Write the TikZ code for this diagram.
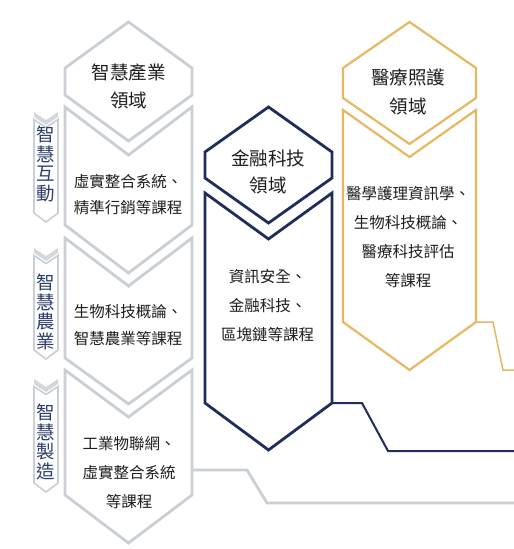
\documentclass[tikz,border=0pt]{standalone}
\usepackage{fontspec}
\newfontfamily\cjk{Noto Sans CJK TC}
\definecolor{lgray}{HTML}{C9CFD5}
\definecolor{bandgray}{HTML}{D3D8DD}
\definecolor{navy}{HTML}{1F2D5C}
\definecolor{gold}{HTML}{E6B862}
\definecolor{txt}{HTML}{1E1E1E}
\definecolor{navytxt}{HTML}{2D3D6C}
\tikzset{
  grayshape/.style={draw=lgray, line width=2.8pt, line join=miter},
  navyshape/.style={draw=navy, line width=2.8pt, line join=miter},
  goldshape/.style={draw=gold, line width=2.2pt, line join=miter},
  tabshape/.style={draw=lgray, line width=1.6pt, line join=miter},
  bandshape/.style={fill=bandgray, draw=none},
  grayline/.style={draw=lgray, line width=2.8pt},
  navyline/.style={draw=navy, line width=2pt},
  goldline/.style={draw=gold, line width=1.5pt},
  title/.style={font=\cjk\fontsize{18.5}{28}\selectfont, align=center, text=txt, inner sep=0pt},
  body/.style={font=\cjk\fontsize{15.5}{29}\selectfont, align=center, text=txt, inner sep=0pt},
  tabtext/.style={font=\cjk\fontsize{18.5}{19.5}\selectfont, align=center, text=navytxt, inner sep=0pt}
}
\begin{document}
\begin{tikzpicture}[x=1pt,y=-1pt]
\useasboundingbox (0,0) rectangle (514,549);
\fill[white] (0,0) rectangle (514,549);

% ---------- gray column ----------
\draw[grayshape] (128.5,22) -- (192,68) -- (192,95) -- (128.5,141) -- (65,95) -- (65,68) -- cycle;
\draw[grayshape] (65,107) -- (128.5,155) -- (192,107) -- (192,225) -- (128.5,273) -- (65,225) -- cycle;
\draw[grayshape] (65,238) -- (128.5,286) -- (192,238) -- (192,358) -- (128.5,404) -- (65,358) -- cycle;
\draw[grayshape] (65,370) -- (128.5,417) -- (192,370) -- (192,495) -- (128.5,543) -- (65,495) -- cycle;

\node[title] (gt) at (128.5,86) {智慧產業\\領域};
\node[body] (g1) at (128,195) {虛實整合系統、\\[-3pt]精準行銷等課程};
\node[body] (g2) at (128,325.5) {生物科技概論、\\[-2pt]智慧農業等課程};
\node[body] (g3) at (129,472.5) {工業物聯網、\\虛實整合系統\\等課程};

% ---------- side tabs ----------
\foreach \y/\t/\b in {112/119.5/213, 248/255.5/350, 379/386.5/483}{
  \fill[bandshape] (34,\y) -- (46,\y+8) -- (58,\y) -- (58,\y+5) -- (46,\y+13) -- (34,\y+5) -- cycle;
  \draw[tabshape] (34,\t) -- (46,\t+8) -- (58,\t) -- (58,\b) -- (46,\b+9) -- (34,\b) -- cycle;
}
\node[tabtext] (t1) at (46,164) {智\\慧\\互\\動};
\node[tabtext] (t2) at (46,312) {智\\慧\\農\\業};
\node[tabtext] (t3) at (46,442) {智\\慧\\製\\造};

% ---------- navy column ----------
\draw[navyshape] (268.5,107) -- (332,152) -- (332,178) -- (268.5,223) -- (205,178) -- (205,152) -- cycle;
\draw[navyshape] (205,193) -- (268.5,239) -- (332,193) -- (332,403) -- (268.5,450) -- (205,403) -- cycle;
\node[title] (nt) at (268,171.5) {金融科技\\[-1pt]領域};
\node[body] (n1) at (267.5,305.5) {資訊安全、\\金融科技、\\區塊鏈等課程};

% ---------- gold column ----------
\draw[goldshape] (409.5,22) -- (476,68) -- (476,98) -- (409.5,144) -- (343,98) -- (343,68) -- cycle;
\draw[goldshape] (343,110) -- (409.5,157) -- (476,110) -- (476,322) -- (409.5,370) -- (343,322) -- cycle;
\node[title] (ot) at (408,91.5) {醫療照護\\[1pt]領域};
\node[body] (o1) at (408,237) {醫學護理資訊學、\\生物科技概論、\\醫療科技評估\\等課程};

% ---------- connectors ----------
\coordinate (gA) at (192,470);
\coordinate (gB) at (247,470);
\coordinate (gC) at (267,503);
\coordinate (gD) at (514,503);
\draw[grayline] (gA) -- (gB) -- (gC) -- (gD);

\coordinate (nA) at (332,403);
\coordinate (nB) at (362,403);
\coordinate (nC) at (388,451);
\coordinate (nD) at (514,451);
\draw[navyline] (nA) -- (nB) -- (nC) -- (nD);

\coordinate (oA) at (476,322);
\coordinate (oB) at (493,322);
\coordinate (oC) at (503,370);
\coordinate (oD) at (514,370);
\draw[goldline] (oA) -- (oB) -- (oC) -- (oD);
\end{tikzpicture}
\end{document}
